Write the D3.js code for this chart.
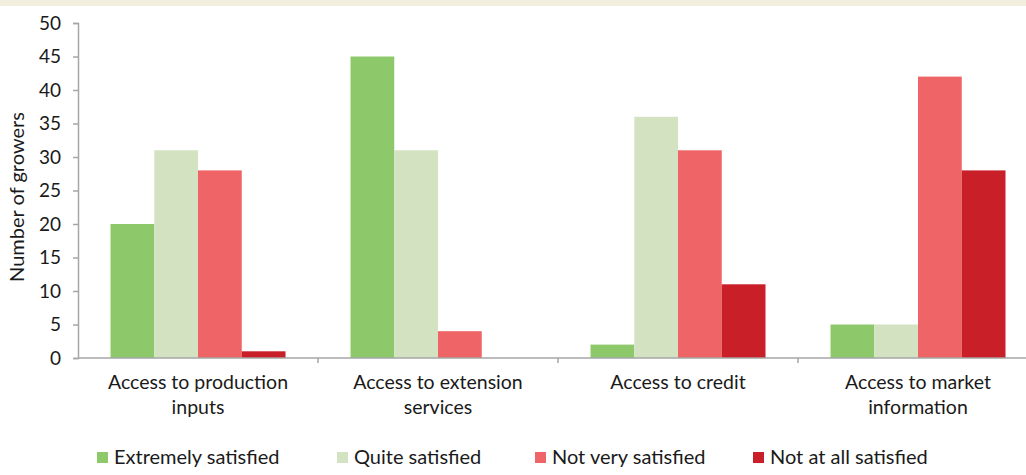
<!DOCTYPE html>
<html>
<head>
<meta charset="utf-8">
<script src="https://cdn.jsdelivr.net/npm/d3@7"></script>
<style>
    body { margin: 0; background: #fff; }
    svg text { font-family: Lato, "Open Sans", sans-serif; fill: #1a1a1a; }
</style>
</head>
<body>
<svg id="chart" width="1026" height="475"></svg>
<script>
// data
var categories = [
    ['Access to production', 'inputs'],
    ['Access to extension', 'services'],
    ['Access to credit'],
    ['Access to market', 'information']
];
var seriesNames = ['Extremely satisfied', 'Quite satisfied', 'Not very satisfied', 'Not at all satisfied'];
var seriesColors = ['#8dc96b', '#d3e2c1', '#ef6466', '#c91f29'];
var extremely = [20, 45, 2, 5];
var quite = [31, 31, 36, 5];
var notVery = [28, 4, 31, 42];
var notAtAll = [1, 0, 11, 28];
var yTicks = [0, 5, 10, 15, 20, 25, 30, 35, 40, 45, 50];

var values = [extremely, quite, notVery, notAtAll];

var svg = d3.select('#chart');

// top band
svg.append('rect')
    .attr('x', 0).attr('y', 0)
    .attr('width', 1026).attr('height', 6)
    .attr('fill', '#f3efdf');

var plotLeft = 78,
    plotBottom = 358,
    plotTop = 23,
    bandW = 240;

var x = d3.scaleBand()
    .domain(d3.range(categories.length))
    .range([plotLeft, plotLeft + bandW * categories.length])
    .paddingInner(0)
    .paddingOuter(0);

var xInner = d3.scaleBand()
    .domain(d3.range(seriesNames.length))
    .range([32.5, bandW - 32.5]);

var y = d3.scaleLinear()
    .domain([0, 50])
    .range([plotBottom, plotTop]);

// bars
var groups = svg.selectAll('.group').data(categories).enter().append('g')
    .attr('class', 'group')
    .attr('transform', function(d, i) { return 'translate(' + x(i) + ',0)'; });

groups.selectAll('rect')
    .data(function(d, i) { return values.map(function(s, j) { return {s: j, v: s[i]}; }); })
    .enter().append('rect')
    .attr('x', function(d) { return xInner(d.s); })
    .attr('width', xInner.bandwidth())
    .attr('y', function(d) { return y(d.v); })
    .attr('height', function(d) { return plotBottom - y(d.v); })
    .attr('fill', function(d) { return seriesColors[d.s]; });

// y axis
var yAxis = d3.axisLeft(y)
    .tickValues(yTicks)
    .tickSize(5)
    .tickPadding(12);
var yg = svg.append('g')
    .attr('transform', 'translate(' + plotLeft + ',0)')
    .call(yAxis);
yg.select('.domain').attr('stroke', '#a6a6a6').attr('stroke-width', 1.5);
yg.selectAll('.tick line').attr('stroke', '#a6a6a6').attr('stroke-width', 1.5);
yg.selectAll('.tick text')
    .style('font-size', '19px')
    .style('font-family', 'Lato, "Open Sans", sans-serif')
    .attr('fill', '#1a1a1a');

// x axis line and boundary ticks
svg.append('line')
    .attr('x1', plotLeft).attr('x2', 1026)
    .attr('y1', plotBottom).attr('y2', plotBottom)
    .attr('stroke', '#a6a6a6').attr('stroke-width', 1.5);

svg.selectAll('.xtick').data(d3.range(1, categories.length)).enter().append('line')
    .attr('class', 'xtick')
    .attr('x1', function(d) { return x(d); })
    .attr('x2', function(d) { return x(d); })
    .attr('y1', plotBottom).attr('y2', plotBottom + 5)
    .attr('stroke', '#a6a6a6').attr('stroke-width', 1.5);

// category labels
var labels = svg.selectAll('.catlabel').data(categories).enter().append('text')
    .attr('class', 'catlabel')
    .attr('text-anchor', 'middle')
    .style('font-size', '19.5px');
labels.selectAll('tspan')
    .data(function(d, i) { return d.map(function(t) { return {t: t, i: i}; }); })
    .enter().append('tspan')
    .attr('x', function(d) { return x(d.i) + bandW / 2; })
    .attr('y', function(d, k) { return 389 + k * 25; })
    .text(function(d) { return d.t; });

// y axis title
svg.append('text')
    .attr('transform', 'translate(24,197) rotate(-90)')
    .attr('text-anchor', 'middle')
    .style('font-size', '20px')
    .text('Number of growers');

// legend
var legendX = [97, 337, 535, 753];
var legend = svg.selectAll('.legend').data(seriesNames).enter().append('g')
    .attr('class', 'legend')
    .attr('transform', function(d, i) { return 'translate(' + legendX[i] + ',452)'; });
legend.append('rect')
    .attr('width', 11).attr('height', 11)
    .attr('fill', function(d, i) { return seriesColors[i]; });
legend.append('text')
    .attr('x', 17).attr('y', 12)
    .style('font-size', '20px')
    .text(function(d) { return d; });
</script>
</body>
</html>
